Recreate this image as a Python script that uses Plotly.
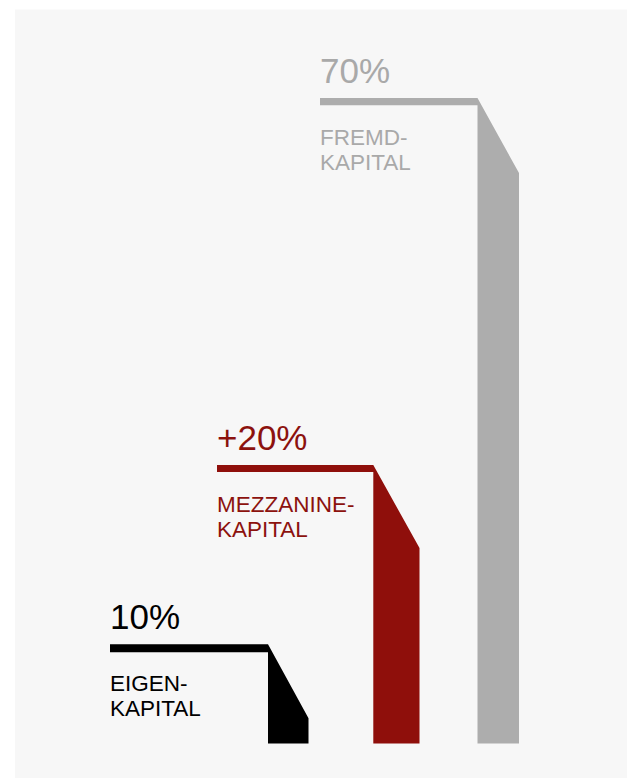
import plotly.graph_objects as go

# ---- data ----
share_labels = ["10%", "+20%", "70%"]
shares = [10, 20, 70]
label_line1 = ["EIGEN-", "MEZZANINE-", "FREMD-"]
label_line2 = ["KAPITAL", "KAPITAL", "KAPITAL"]
bar_levels = [10.75, 30.2, 70.0]   # height of each bent bar's top (in % units)

# ---- styling / geometry (pixels) ----
fill_colors = ["#000000", "#8f0f0b", "#adadad"]
text_colors = ["#000000", "#8c120e", "#a9a9a9"]
x_start = [110, 217, 320]          # left end of horizontal arm
x_left = [268, 373.3, 477.5]       # left edge of vertical bar
x_right = [308.5, 419.5, 519]      # right edge of vertical bar
arm_px = [8, 7, 7.3]               # thickness of the horizontal arm
drop_px = [74, 83, 75]             # vertical length of the slanted top

W, H = 627, 778
BASE_PX = 743.5                    # pixel row of value 0
K = 9.221                          # pixels per % unit
y_lo = -(H - BASE_PX) / K
y_hi = BASE_PX / K

FONT = "Liberation Sans, Arial, Helvetica, sans-serif"

fig = go.Figure()

for i in range(len(shares)):
    top = bar_levels[i]
    xs = [x_start[i], x_left[i], x_right[i], x_right[i], x_left[i], x_left[i], x_start[i], x_start[i]]
    ys = [top, top, top - drop_px[i] / K, 0, 0, top - arm_px[i] / K, top - arm_px[i] / K, top]
    fig.add_trace(go.Scatter(
        x=xs, y=ys, mode="lines", fill="toself",
        fillcolor=fill_colors[i], line=dict(width=0, color=fill_colors[i]),
        hoverinfo="skip", showlegend=False,
    ))

annotations = []
for i in range(len(shares)):
    top = bar_levels[i]
    annotations.append(dict(
        x=x_start[i] - 2, y=top + 28 / K, xref="x", yref="y",
        text=share_labels[i], showarrow=False, xanchor="left", yanchor="middle",
        font=dict(family=FONT, size=35, color=text_colors[i]),
    ))
    annotations.append(dict(
        x=x_start[i] - 2, y=top - 39 / K, xref="x", yref="y",
        text=label_line1[i], showarrow=False, xanchor="left", yanchor="middle",
        font=dict(family=FONT, size=22.5, color=text_colors[i]),
    ))
    annotations.append(dict(
        x=x_start[i] - 2, y=top - 64 / K, xref="x", yref="y",
        text=label_line2[i], showarrow=False, xanchor="left", yanchor="middle",
        font=dict(family=FONT, size=22.5, color=text_colors[i]),
    ))

fig.update_layout(
    width=W, height=H,
    margin=dict(l=0, r=0, t=0, b=0),
    paper_bgcolor="#ffffff",
    plot_bgcolor="rgba(0,0,0,0)",
    xaxis=dict(range=[0, W], visible=False, fixedrange=True),
    yaxis=dict(range=[y_lo, y_hi], visible=False, fixedrange=True),
    annotations=annotations,
    shapes=[dict(
        type="rect", xref="paper", yref="paper",
        x0=15 / W, x1=1, y0=0, y1=1 - 9.5 / H,
        fillcolor="#f7f7f7", line=dict(width=0), layer="below",
    )],
    showlegend=False,
)

fig.write_html(
    "out.html",
    config={"displayModeBar": False},
    post_script="document.body.style.margin='0';document.body.style.overflow='hidden';",
)
